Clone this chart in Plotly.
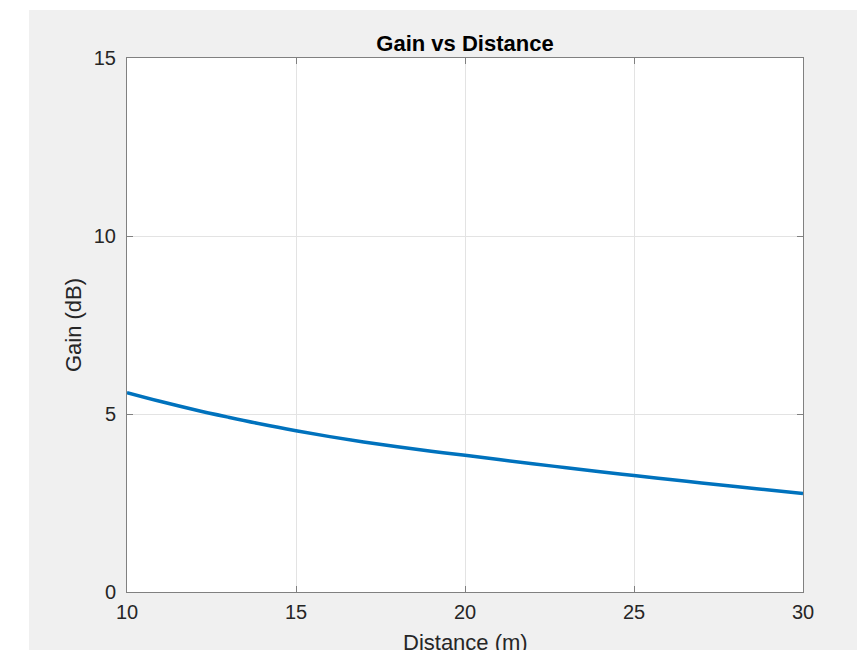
import plotly.graph_objects as go

distance_m = [10, 11, 12, 13, 14, 15, 16, 17, 18, 19, 20,
              21, 22, 23, 24, 25, 26, 27, 28, 29, 30]
gain_db = [5.60, 5.35, 5.12, 4.91, 4.71, 4.53, 4.365, 4.215, 4.08, 3.955, 3.84,
           3.72, 3.605, 3.49, 3.38, 3.27, 3.165, 3.065, 2.965, 2.865, 2.77]
x_ticks = [10, 15, 20, 25, 30]
y_ticks = [0, 5, 10, 15]

FONT = "Liberation Sans, Arial, Helvetica, sans-serif"
AX = "#808080"
TXT = "#262626"

fig = go.Figure()
fig.add_trace(go.Scatter(x=distance_m, y=gain_db, mode="lines",
                         line=dict(color="#0072BD", width=3.5, shape="spline"),
                         showlegend=False, hoverinfo="x+y"))

# page body has an 8px margin, so the figure is placed at (8, 8)
OFF = 8
W, H = 865 - 2 * OFF, 650 - OFF
L, T = 127 - OFF, 58 - OFF
R = W - (803 - OFF)
B = H - (592 - OFF)
pw, ph = W - L - R, H - T - B

def px_x(p):
    return (p - OFF - L) / pw

def px_y(p):
    return (H - B - (p - OFF)) / ph

fig.update_layout(
    width=W, height=H,
    margin=dict(l=L, r=R, t=T, b=B, pad=0, autoexpand=False),
    paper_bgcolor="#f0f0f0",
    plot_bgcolor="white",
    font=dict(family=FONT, color=TXT, size=20),
    title=dict(text="<b>Gain vs Distance</b>", x=(L + pw / 2) / W, xanchor="center",
               y=1 - (43 - OFF) / H, yanchor="middle", font=dict(size=22, color="#000000")),
    shapes=[
        dict(type="rect", xref="paper", yref="paper", layer="below",
             x0=px_x(0), x1=px_x(29), y0=px_y(660), y1=px_y(0),
             fillcolor="white", line=dict(width=0)),
        dict(type="rect", xref="paper", yref="paper", layer="below",
             x0=px_x(0), x1=px_x(870), y0=px_y(10), y1=px_y(0),
             fillcolor="white", line=dict(width=0)),
    ],
    annotations=[
        dict(text="Distance (m)", xref="paper", yref="paper", x=0.5, y=px_y(628),
             xanchor="center", yanchor="top", showarrow=False,
             font=dict(size=22, color=TXT, family=FONT)),
    ],
    xaxis=dict(range=[10, 30], tickvals=x_ticks, ticks="inside", ticklen=6,
               tickcolor=AX, linecolor=AX, linewidth=1, mirror="ticks",
               showgrid=True, gridcolor="#e3e3e3", gridwidth=1, zeroline=False,
               tickfont=dict(size=20, color=TXT), ticklabelstandoff=2, automargin=False),
    yaxis=dict(range=[0, 15], tickvals=y_ticks, ticks="inside", ticklen=6,
               tickcolor=AX, linecolor=AX, linewidth=1, mirror="ticks",
               showgrid=True, gridcolor="#e3e3e3", gridwidth=1, zeroline=False,
               tickfont=dict(size=20, color=TXT), ticklabelstandoff=6, automargin=False,
               title=dict(text="Gain (dB)", font=dict(size=22, color=TXT), standoff=6)),
)

fig.write_html("out.html")
